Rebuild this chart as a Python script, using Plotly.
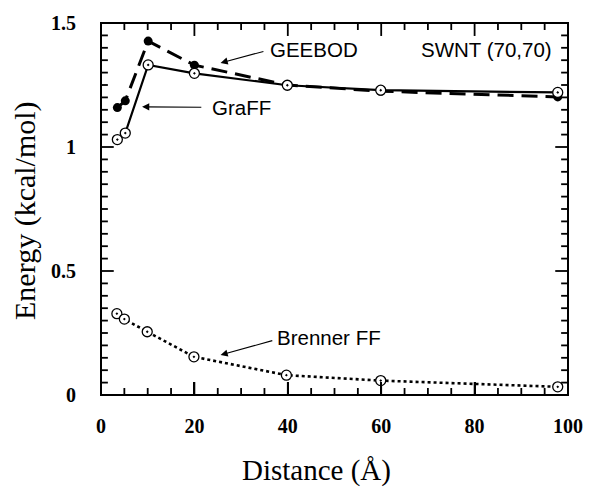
import plotly.graph_objects as go

# Data
graff_x = [3.5, 5.2, 10.1, 20.0, 39.9, 59.9, 97.8]
graff_y = [1.030, 1.056, 1.331, 1.297, 1.249, 1.229, 1.220]

geebod_x = [3.5, 5.2, 10.1, 20.0, 39.9, 59.9, 97.8]
geebod_y = [1.159, 1.186, 1.427, 1.330, 1.250, 1.225, 1.202]

brenner_x = [3.4, 5.0, 9.9, 19.9, 39.7, 59.9, 97.8]
brenner_y = [0.328, 0.306, 0.255, 0.154, 0.080, 0.058, 0.033]

x_ticks = [0, 20, 40, 60, 80, 100]
y_ticks = [0, 0.5, 1, 1.5]
y_tick_labels = ["0", "0.5", "1", "1.5"]
x_range = [0, 100]
y_range = [0, 1.5]
x_minor_step = 5
y_minor_step = 0.05

serif = "Liberation Serif, Times New Roman, serif"
ann_font = dict(family="Liberation Sans, Arial, sans-serif", size=20.5, color="black")

W, H = 595, 488
L, R, T, B = 101, 18, 22, 93
pw, ph = W - L - R, H - T - B

fig = go.Figure()

# ---- inside tick marks on all four sides, built from the tick lists ----
MAJ, MIN = 13, 7
xpx = pw / (x_range[1] - x_range[0])
ypx = ph / (y_range[1] - y_range[0])
x_minor = [i * x_minor_step for i in range(1, int(x_range[1] / x_minor_step))]
x_minor = [v for v in x_minor if v not in x_ticks]
y_minor = [round(i * y_minor_step, 4) for i in range(1, int(round(y_range[1] / y_minor_step)))]
y_minor = [v for v in y_minor if abs(v / 0.5 - round(v / 0.5)) > 1e-6]

tx, ty = [], []
for vals, ln in ((x_ticks, MAJ), (x_minor, MIN)):
    for v in vals:
        tx += [v, v, None, v, v, None]
        ty += [y_range[0], y_range[0] + ln / ypx, None,
               y_range[1], y_range[1] - ln / ypx, None]
for vals, ln in ((y_ticks, MAJ), (y_minor, MIN)):
    for v in vals:
        tx += [x_range[0], x_range[0] + ln / xpx, None,
               x_range[1], x_range[1] - ln / xpx, None]
        ty += [v, v, None, v, v, None]
fig.add_trace(go.Scatter(x=tx, y=ty, mode="lines", line=dict(color="black", width=1.8),
                         showlegend=False, hoverinfo="skip", connectgaps=False))

# ---- data ----
fig.add_trace(go.Scatter(
    x=geebod_x, y=geebod_y, mode="lines+markers", name="GEEBOD",
    line=dict(color="black", width=3, dash="16px,8px"),
    marker=dict(symbol="circle", size=9, color="black"),
))
fig.add_trace(go.Scatter(
    x=graff_x, y=graff_y, mode="lines+markers", name="GraFF",
    line=dict(color="black", width=2.2),
    marker=dict(symbol="circle-dot", size=10, color="white",
                line=dict(color="black", width=1.3)),
))
fig.add_trace(go.Scatter(
    x=brenner_x, y=brenner_y, mode="lines+markers", name="Brenner FF",
    line=dict(color="black", width=2.6, dash="3px,3px"),
    marker=dict(symbol="circle-dot", size=10, color="white",
                line=dict(color="black", width=1.3)),
))

annotations = [
    dict(x=25.6, y=1.339, ax=35.1, ay=1.387, xref="x", yref="y", axref="x", ayref="y",
         text="", showarrow=True, arrowhead=2, arrowsize=1.3, arrowwidth=1.1, arrowcolor="black"),
    dict(x=35.7, y=1.395, xref="x", yref="y", text="GEEBOD", showarrow=False,
         xanchor="left", yanchor="middle", font=ann_font),
    dict(x=8.8, y=1.162, ax=21.8, ay=1.160, xref="x", yref="y", axref="x", ayref="y",
         text="", showarrow=True, arrowhead=2, arrowsize=1.3, arrowwidth=1.1, arrowcolor="black"),
    dict(x=23.3, y=1.160, xref="x", yref="y", text="GraFF", showarrow=False,
         xanchor="left", yanchor="middle", font=ann_font),
    dict(x=25.6, y=0.161, ax=37.0, ay=0.221, xref="x", yref="y", axref="x", ayref="y",
         text="", showarrow=True, arrowhead=2, arrowsize=1.3, arrowwidth=1.1, arrowcolor="black"),
    dict(x=37.3, y=0.233, xref="x", yref="y", text="Brenner FF", showarrow=False,
         xanchor="left", yanchor="middle", font=ann_font),
    dict(x=97.1, y=1.395, xref="x", yref="y", text="SWNT (70,70)", showarrow=False,
         xanchor="right", yanchor="middle", font=ann_font),
    dict(x=(321 - L) / pw, y=(H - B - 471) / ph, xref="paper", yref="paper",
         text="Distance (Å)", showarrow=False, xanchor="center", yanchor="middle",
         font=dict(family=serif, size=29, color="black")),
    dict(x=(24 - L) / pw, y=(H - B - 210) / ph, xref="paper", yref="paper",
         text="Energy (kcal/mol)", showarrow=False, textangle=-90,
         xanchor="center", yanchor="middle",
         font=dict(family=serif, size=30, color="black")),
]

fig.update_layout(
    width=W, height=H,
    margin=dict(l=L, r=R, t=T, b=B),
    paper_bgcolor="white", plot_bgcolor="white",
    showlegend=False,
    annotations=annotations,
    shapes=[dict(type="rect", xref="paper", yref="paper", x0=0, y0=0, x1=1, y1=1,
                 line=dict(color="black", width=2), layer="above")],
    font=dict(family=serif, color="black"),
    xaxis=dict(range=x_range, tickmode="array", tickvals=x_ticks,
               ticktext=["<b>%d</b>" % v for v in x_ticks],
               ticks="inside", ticklen=MAJ, tickwidth=1.8, tickcolor="black",
               showgrid=False, zeroline=False, showline=False,
               tickfont=dict(family=serif, size=20, color="black"),
               ticklabelstandoff=17),
    yaxis=dict(range=y_range, tickmode="array", tickvals=y_ticks,
               ticktext=["<b>%s</b>" % s for s in y_tick_labels],
               ticks="outside", ticklen=20, tickwidth=1, tickcolor="rgba(0,0,0,0)",
               showgrid=False, zeroline=False, showline=False,
               tickfont=dict(family=serif, size=20, color="black")),
)

fig.write_html("out.html", config={"displayModeBar": False},
               post_script="document.body.style.margin='0px';document.body.style.overflow='hidden';")
